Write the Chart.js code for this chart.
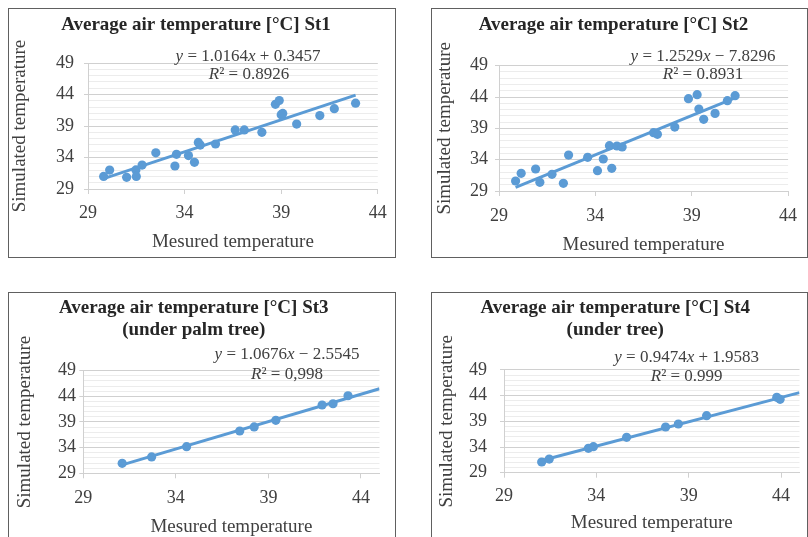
<!DOCTYPE html>
<html>
<head>
<meta charset="utf-8">
<script src="https://cdn.jsdelivr.net/npm/chart.js@4.4.1/dist/chart.umd.min.js"></script>
<style>
  html, body { margin: 0; padding: 0; background: #fff; }
  body { width: 808px; height: 537px; position: relative; overflow: hidden; }
  .box { position: absolute; border: 1px solid #606060; box-sizing: border-box; }
  canvas { position: absolute; }
</style>
</head>
<body>
<div class="box" style="left:8px;top:8px;width:388px;height:250px"></div>
<div class="box" style="left:431px;top:8px;width:377px;height:250px"></div>
<div class="box" style="left:8px;top:292px;width:388px;height:260px"></div>
<div class="box" style="left:431px;top:292px;width:377px;height:260px"></div>
<canvas id="c1" width="387" height="249" style="left:8px;top:8px"></canvas>
<canvas id="c2" width="376" height="249" style="left:431px;top:8px"></canvas>
<canvas id="c3" width="387" height="250" style="left:8px;top:292px"></canvas>
<canvas id="c4" width="376" height="250" style="left:431px;top:292px"></canvas>
<script>
// ─── Données ────────────────────────────
const st1Measured  = [29.81, 30.12, 31.0, 31.48, 31.5, 31.8, 32.51, 33.5, 33.58, 34.2, 34.51, 34.71, 34.81, 35.6, 36.62, 37.09, 38.0, 38.7, 38.9, 39.0, 39.08, 39.8, 41.0, 41.75, 42.85];
const st1Simulated = [31.0, 32.0, 30.85, 32.02, 31.0, 32.8, 34.75, 32.65, 34.5, 34.3, 33.24, 36.4, 35.98, 36.14, 38.37, 38.37, 38.0, 42.44, 43.05, 40.8, 41.0, 39.3, 40.65, 41.75, 42.63];

const st2Measured  = [29.86, 30.15, 30.9, 31.12, 31.75, 32.34, 32.61, 33.6, 34.11, 34.41, 34.73, 34.85, 35.12, 35.39, 37.02, 37.22, 38.12, 38.83, 39.28, 39.37, 39.62, 40.21, 40.85, 41.25];
const st2Simulated = [30.6, 31.82, 32.51, 30.38, 31.66, 30.22, 34.74, 34.37, 32.24, 34.11, 36.23, 32.62, 36.18, 36.02, 38.31, 38.04, 39.21, 43.73, 44.37, 42.09, 40.44, 41.39, 43.41, 44.21];

const st3Measured  = [31.1, 32.69, 34.58, 37.45, 38.23, 39.4, 41.9, 42.49, 43.3];
const st3Simulated = [30.95, 32.19, 34.19, 37.25, 38.03, 39.32, 42.31, 42.56, 44.12];

const st4Measured  = [31.04, 31.45, 33.57, 33.84, 35.64, 37.75, 38.44, 39.97, 43.77, 43.95];
const st4Simulated = [31.08, 31.66, 33.74, 34.06, 35.88, 37.9, 38.48, 40.1, 43.68, 43.29];

const xTicks = [29, 34, 39, 44];
const yTicks = [29, 34, 39, 44, 49];
const xMaxes = [44, 44, 45, 45];

const titles = [
  'Average air temperature [°C] St1',
  'Average air temperature [°C] St2',
  ['Average air temperature [°C] St3', '(under palm tree)'],
  ['Average air temperature [°C] St4', '(under tree)']
];
const equations  = ['y = 1.0164x + 0.3457', 'y = 1.2529x − 7.8296', 'y = 1.0676x − 2.5545', 'y = 0.9474x + 1.9583'];
const r2Labels   = ['R² = 0.8926', 'R² = 0.8931', 'R² = 0,998', 'R² = 0.999'];
const slopes     = [1.0164, 1.2529, 1.0676, 0.9474];
const intercepts = [0.3457, -7.8296, -2.5545, 1.9583];
const forecast   = [false, false, true, true]; // tendance prolongée jusqu'au bord

const measured  = [st1Measured, st2Measured, st3Measured, st4Measured];
const simulated = [st1Simulated, st2Simulated, st3Simulated, st4Simulated];

// ─── Mise en page de chaque panneau ─────
const panels = [
  { id: 'c1', yw: 80,   xh: 68,   padR: 11,   tPad: [5.6, 26.6],   tLh: 1.2,   yTitlePad: 0.6, yTickPad: 10,  xTickPad: 8.2, xTitlePad: 3.6, eq: [240, 49],    r2: [241, 67] },
  { id: 'c2', yw: 68,   xh: 66,   padR: 11,   tPad: [5.6, 29.3],   tLh: 1.2,   yTitlePad: 2.6, yTickPad: 7,   xTickPad: 9.9, xTitlePad: 0.6, eq: [272, 48.7],  r2: [272, 67] },
  { id: 'c3', yw: 75.3, xh: 68.7, padR: 15.5, tPad: [5.45, 29.85], tLh: 1.142, yTitlePad: 5.6, yTickPad: 3.3, xTickPad: 9.2, xTitlePad: 3.9, eq: [279, 63],    r2: [279, 82.3] },
  { id: 'c4', yw: 73,   xh: 69.3, padR: 7.5,  tPad: [5.45, 29.15], tLh: 1.142, yTitlePad: 4.3, yTickPad: 13,  xTickPad: 8.2, xTitlePad: 7.3, eq: [255.7, 65.3], r2: [255.7, 84.7] }
];

const BLUE = '#5b9bd5';
const SERIF = '"Liberation Serif", "Times New Roman", serif';
Chart.defaults.font.family = SERIF;
Chart.defaults.color = '#404040';

// ─── Texte équation (x, y, R en italique) ─
function drawRich(ctx, text, pos) {
  const fontOf = it => `${it ? 'italic ' : ''}17px ${SERIF}`;
  const parts = text.split('').map(ch => ({ ch, it: 'xyR'.includes(ch) }));
  let total = 0;
  parts.forEach(p => { ctx.font = fontOf(p.it); p.w = ctx.measureText(p.ch).width; total += p.w; });
  let x = pos[0] - total / 2;
  ctx.fillStyle = '#404040';
  ctx.textBaseline = 'middle';
  ctx.textAlign = 'left';
  parts.forEach(p => { ctx.font = fontOf(p.it); ctx.fillText(p.ch, x, pos[1]); x += p.w; });
}

const equationPlugin = {
  id: 'equation',
  afterDatasetsDraw(chart, args, opts) {
    const ctx = chart.ctx;
    ctx.save();
    drawRich(ctx, opts.eq, opts.eqPos);
    drawRich(ctx, opts.r2, opts.r2Pos);
    ctx.restore();
  }
};

// ─── Construction des graphiques ────────
panels.forEach((p, i) => {
  const xs = measured[i], ys = simulated[i];
  const x0 = Math.min(...xs);
  const x1 = forecast[i] ? xMaxes[i] : Math.max(...xs);
  const trend = [x0, x1].map(x => ({ x, y: slopes[i] * x + intercepts[i] }));

  new Chart(document.getElementById(p.id), {
    type: 'scatter',
    data: {
      datasets: [
        {
          data: xs.map((x, k) => ({ x, y: ys[k] })),
          backgroundColor: BLUE,
          borderWidth: 0,
          pointRadius: 4.6
        },
        {
          type: 'line',
          data: trend,
          borderColor: BLUE,
          borderWidth: 3,
          pointRadius: 0,
          fill: false
        }
      ]
    },
    options: {
      responsive: false,
      animation: false,
      layout: { padding: { left: 0, right: p.padR, top: 0, bottom: 0 } },
      plugins: {
        legend: { display: false },
        tooltip: { enabled: false },
        title: {
          display: true,
          text: titles[i],
          color: '#262626',
          font: { size: 19, weight: 'bold', lineHeight: p.tLh },
          padding: { top: p.tPad[0], bottom: p.tPad[1] }
        },
        equation: { eq: equations[i], r2: r2Labels[i], eqPos: p.eq, r2Pos: p.r2 }
      },
      scales: {
        x: {
          type: 'linear',
          min: 29,
          max: xMaxes[i],
          afterBuildTicks: s => { s.ticks = xTicks.map(v => ({ value: v })); },
          afterFit: s => { s.height = p.xh; },
          ticks: { font: { size: 18, lineHeight: 1.2 }, padding: p.xTickPad, maxRotation: 0 },
          grid: { drawOnChartArea: false, color: '#d0d0d0', tickLength: 5 },
          border: { display: true, color: '#d0d0d0' },
          title: {
            display: true,
            text: 'Mesured temperature',
            font: { size: 19, lineHeight: 1.2 },
            padding: { top: 0, bottom: p.xTitlePad }
          }
        },
        y: {
          min: 29,
          max: 49,
          afterFit: s => { s.width = p.yw; },
          ticks: {
            stepSize: 1,
            autoSkip: false,
            font: { size: 18, lineHeight: 1.2 },
            padding: p.yTickPad,
            callback: v => (yTicks.includes(v) ? v : '')
          },
          grid: {
            color: c => (yTicks.includes(c.tick.value) ? '#d0d0d0' : '#ececec'),
            tickColor: c => (yTicks.includes(c.tick.value) ? '#d0d0d0' : 'rgba(0,0,0,0)'),
            tickLength: 4
          },
          border: { display: true, color: '#d0d0d0' },
          title: {
            display: true,
            text: 'Simulated temperature',
            font: { size: 19, lineHeight: 1.2 },
            padding: { top: p.yTitlePad, bottom: 0 }
          }
        }
      }
    },
    plugins: [equationPlugin]
  });
});
</script>
</body>
</html>
